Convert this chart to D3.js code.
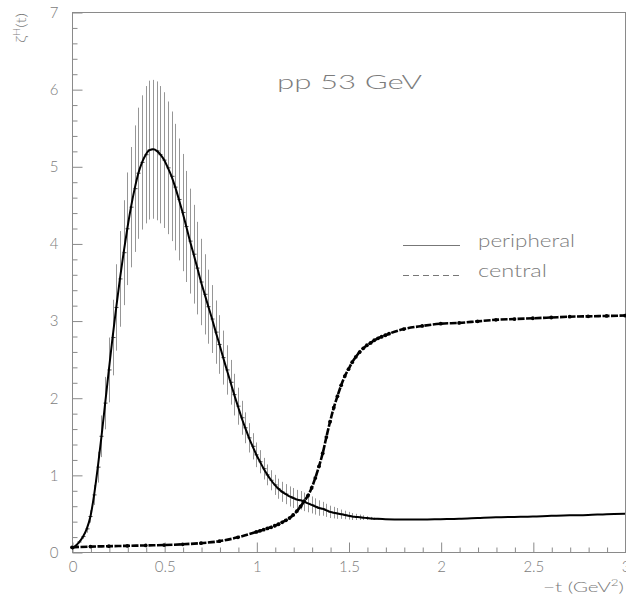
<!DOCTYPE html>
<html>
<head>
<meta charset="utf-8">
<script src="https://cdn.jsdelivr.net/npm/d3@7"></script>
<style>
  html, body { margin: 0; padding: 0; background: #fff; }
  svg text { font-family: "Lato", "DejaVu Sans", sans-serif; font-weight: 300; fill: #7c7c7c; }
</style>
</head>
<body>
<svg id="chart" width="626" height="597"></svg>
<script>
// Peripheral profile: -t (GeV^2) and zeta^H(t)
const perT = [0.00, 0.02, 0.04, 0.06, 0.08, 0.10, 0.12, 0.14, 0.16, 0.18,
  0.20, 0.22, 0.24, 0.26, 0.28, 0.30, 0.32, 0.34, 0.36, 0.38,
  0.40, 0.42, 0.44, 0.46, 0.48, 0.50, 0.52, 0.54, 0.56, 0.58,
  0.60, 0.62, 0.64, 0.66, 0.68, 0.70, 0.72, 0.74, 0.76, 0.78,
  0.80, 0.82, 0.84, 0.86, 0.88, 0.90, 0.92, 0.94, 0.96, 0.98,
  1.00, 1.02, 1.04, 1.06, 1.08, 1.10, 1.12, 1.14, 1.16, 1.18,
  1.20, 1.22, 1.24, 1.26, 1.28, 1.30, 1.32, 1.34, 1.36, 1.38,
  1.40, 1.42, 1.44, 1.46, 1.48, 1.50, 1.52, 1.54, 1.56, 1.58,
  1.60, 1.62, 1.64, 1.66, 1.70, 1.80, 1.90, 2.00, 2.10, 2.20,
  2.30, 2.40, 2.50, 2.60, 2.70, 2.80, 2.90, 3.00];
const perY = [0.04, 0.08, 0.13, 0.20, 0.30, 0.46, 0.74, 1.10, 1.50, 1.93,
  2.36, 2.78, 3.17, 3.54, 3.88, 4.19, 4.47, 4.71, 4.91, 5.05,
  5.15, 5.21, 5.22, 5.20, 5.15, 5.08, 4.98, 4.87, 4.73, 4.57,
  4.40, 4.22, 4.03, 3.86, 3.68, 3.50, 3.34, 3.18, 3.02, 2.85,
  2.69, 2.52, 2.36, 2.20, 2.04, 1.89, 1.74, 1.61, 1.48, 1.37,
  1.26, 1.17, 1.08, 1.00, 0.93, 0.87, 0.82, 0.78, 0.75, 0.72,
  0.70, 0.68, 0.67, 0.65, 0.63, 0.61, 0.59, 0.57, 0.56, 0.54,
  0.52, 0.51, 0.50, 0.49, 0.48, 0.47, 0.46, 0.455, 0.45, 0.445,
  0.44, 0.435, 0.43, 0.43, 0.425, 0.42, 0.42, 0.425, 0.43, 0.44,
  0.45, 0.455, 0.46, 0.47, 0.475, 0.48, 0.49, 0.495];
// Symmetric uncertainties for the first points of the peripheral profile
const perErr = [0.00, 0.01, 0.02, 0.03, 0.05, 0.08, 0.13, 0.20, 0.27, 0.34,
  0.42, 0.49, 0.56, 0.62, 0.68, 0.73, 0.78, 0.82, 0.85, 0.87,
  0.89, 0.90, 0.90, 0.90, 0.89, 0.88, 0.86, 0.84, 0.82, 0.79,
  0.76, 0.72, 0.68, 0.64, 0.60, 0.56, 0.52, 0.48, 0.44, 0.41,
  0.38, 0.35, 0.32, 0.29, 0.27, 0.24, 0.22, 0.20, 0.19, 0.17,
  0.16, 0.15, 0.14, 0.135, 0.13, 0.13, 0.13, 0.13, 0.13, 0.13,
  0.13, 0.125, 0.12, 0.12, 0.115, 0.11, 0.105, 0.10, 0.09, 0.085,
  0.08, 0.075, 0.07, 0.06, 0.055, 0.05, 0.045, 0.04, 0.035, 0.03,
  0.025, 0.02, 0.015, 0.01];

// Central profile
const cenT = [0.00, 0.10, 0.20, 0.30, 0.40, 0.50, 0.60, 0.70, 0.80, 0.90,
  1.00, 1.02, 1.04, 1.06, 1.08, 1.10, 1.12, 1.14, 1.16, 1.18,
  1.20, 1.22, 1.24, 1.26, 1.28, 1.30, 1.32, 1.34, 1.36, 1.38,
  1.40, 1.42, 1.44, 1.46, 1.48, 1.50, 1.52, 1.54, 1.56, 1.58,
  1.60, 1.62, 1.64, 1.66, 1.68, 1.70, 1.72, 1.80, 1.90, 2.00,
  2.10, 2.20, 2.30, 2.40, 2.50, 2.60, 2.70, 2.80, 2.90, 3.00];
const cenY = [0.06, 0.07, 0.075, 0.08, 0.085, 0.09, 0.10, 0.115, 0.14, 0.19,
  0.26, 0.275, 0.29, 0.305, 0.32, 0.34, 0.36, 0.385, 0.41, 0.44,
  0.48, 0.53, 0.59, 0.66, 0.73, 0.83, 0.96, 1.11, 1.28, 1.49,
  1.69, 1.87, 2.02, 2.16, 2.28, 2.37, 2.46, 2.53, 2.59, 2.64,
  2.68, 2.71, 2.745, 2.77, 2.79, 2.81, 2.83, 2.89, 2.93, 2.96,
  2.97, 2.99, 3.01, 3.02, 3.03, 3.04, 3.05, 3.055, 3.06, 3.065];

const xMajor = [0, 0.5, 1, 1.5, 2, 2.5, 3];
const xMajorLabels = ["0", "0.5", "1", "1.5", "2", "2.5", "3"];
const yMajor = [0, 1, 2, 3, 4, 5, 6, 7];
const yMajorLabels = ["0", "1", "2", "3", "4", "5", "6", "7"];
const legendLabels = ["peripheral", "central"];
const titleText = "pp 53 GeV";

const svg = d3.select("#chart");
const axisGrey = "#8a8a8a";

const x = d3.scaleLinear().domain([0, 3]).range([72, 625]);
const y = d3.scaleLinear().domain([0, 7]).range([552, 12]);

// frame
svg.append("rect")
  .attr("x", x(0) + 0.5).attr("y", y(7) + 0.5)
  .attr("width", x(3) - x(0)).attr("height", y(0) - y(7))
  .attr("fill", "none").attr("stroke", axisGrey).attr("stroke-width", 1);

// x axis: minor ticks every 0.1, major ticks with labels every 0.5
const xMinor = d3.range(0, 31).map(i => i / 10).filter(v => !xMajor.includes(v));
const gx = svg.append("g").attr("transform", `translate(0.5,${y(0) + 0.5})`);
gx.call(d3.axisBottom(x).tickValues(xMinor).tickSize(-5).tickSizeOuter(0).tickFormat(""));
gx.call(g => g.select(".domain").remove());
const gx2 = svg.append("g").attr("transform", `translate(0.5,${y(0) + 0.5})`);
gx2.call(d3.axisBottom(x).tickValues(xMajor).tickSize(-10).tickSizeOuter(0).tickPadding(9)
  .tickFormat((d, i) => xMajorLabels[i]));
gx2.call(g => g.select(".domain").remove());

// y axis: minor ticks every 0.2, major ticks with labels every 1
const yMinor = d3.range(0, 36).map(i => i / 5).filter(v => !yMajor.includes(v));
const gy = svg.append("g").attr("transform", `translate(${x(0) + 0.5},0.5)`);
gy.call(d3.axisLeft(y).tickValues(yMinor).tickSize(-5).tickSizeOuter(0).tickFormat(""));
gy.call(g => g.select(".domain").remove());
const gy2 = svg.append("g").attr("transform", `translate(${x(0) + 0.5},0.5)`);
gy2.call(d3.axisLeft(y).tickValues(yMajor).tickSize(-10).tickSizeOuter(0).tickPadding(14)
  .tickFormat((d, i) => yMajorLabels[i]));
gy2.call(g => g.select(".domain").remove());

svg.selectAll(".tick line").attr("stroke", axisGrey);
svg.selectAll(".tick text").attr("font-size", 15).attr("font-family", null).attr("fill", null);

// axis titles
const xt = svg.append("text").attr("x", 543).attr("y", 592)
  .attr("font-size", 14).attr("textLength", 81).attr("lengthAdjust", "spacingAndGlyphs");
xt.append("tspan").text("\u2212t  (GeV");
xt.append("tspan").attr("font-size", 9).attr("dy", -6).text("2");
xt.append("tspan").attr("dy", 6).text(")");

const yt = svg.append("text").attr("transform", "translate(26,43) rotate(-90)")
  .attr("font-size", 14).attr("textLength", 30).attr("lengthAdjust", "spacingAndGlyphs");
yt.append("tspan").text("\u03B6");
yt.append("tspan").attr("font-size", 9).attr("dy", -6).text("H");
yt.append("tspan").attr("dy", 6).text("(t)");

// title
svg.append("text").attr("x", 277).attr("y", 89).attr("font-size", 20)
  .attr("textLength", 145).attr("lengthAdjust", "spacingAndGlyphs").text(titleText);

// error bars of the peripheral profile
const bars = perErr.map((e, i) => ({ t: perT[i], v: perY[i], e })).filter(d => d.e > 0);
svg.append("g").selectAll("line").data(bars).join("line")
  .attr("x1", d => Math.round(x(d.t)) + 0.5).attr("x2", d => Math.round(x(d.t)) + 0.5)
  .attr("y1", d => y(d.v - d.e)).attr("y2", d => y(d.v + d.e))
  .attr("stroke", "#969696").attr("stroke-width", 1);
svg.append("g").selectAll("line").data(bars).join("line")
  .attr("x1", d => Math.round(x(d.t)) - 1.5).attr("x2", d => Math.round(x(d.t)) + 2.5)
  .attr("y1", d => y(d.v)).attr("y2", d => y(d.v))
  .attr("stroke", "#444").attr("stroke-width", 1);

// peripheral curve
const perLine = d3.line().x((d, i) => x(perT[i])).y(d => y(d)).curve(d3.curveMonotoneX);
svg.append("path").attr("d", perLine(perY))
  .attr("fill", "none").attr("stroke", "#000").attr("stroke-width", 2);

// central curve: thick dashed line with point markers
const cenLine = d3.line().x((d, i) => x(cenT[i])).y(d => y(d)).curve(d3.curveMonotoneX);
svg.append("path").attr("d", cenLine(cenY))
  .attr("fill", "none").attr("stroke", "#000").attr("stroke-width", 2.6)
  .attr("stroke-dasharray", "7,1.5");
svg.append("g").selectAll("circle").data(cenY).join("circle")
  .attr("cx", (d, i) => x(cenT[i])).attr("cy", d => y(d)).attr("r", 1.9).attr("fill", "#000");

// legend
const legend = svg.append("g");
const legY = [245, 275];
const legLen = [97, 69];
legendLabels.forEach((lab, i) => {
  legend.append("line").attr("x1", 403).attr("x2", 460).attr("y1", legY[i] + 0.5).attr("y2", legY[i] + 0.5)
    .attr("stroke", "#777").attr("stroke-width", 1)
    .attr("stroke-dasharray", i === 1 ? "6,4" : null);
  legend.append("text").attr("x", 478).attr("y", legY[i] + 2).attr("font-size", 17)
    .attr("textLength", legLen[i]).attr("lengthAdjust", "spacingAndGlyphs").text(lab);
});
</script>
</body>
</html>
